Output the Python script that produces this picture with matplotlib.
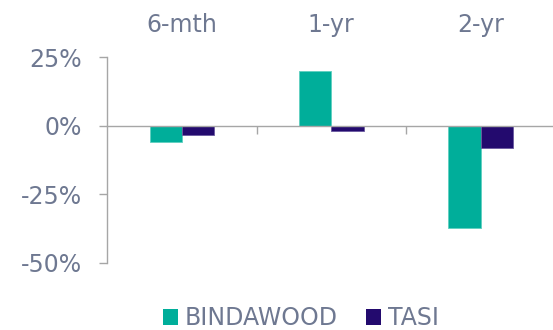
import matplotlib
matplotlib.use("Agg")
import matplotlib.pyplot as plt
import matplotlib.transforms as mtransforms
from matplotlib.patches import Patch
import numpy as np

categories = ["6-mth", "1-yr", "2-yr"]
bindawood = [-6.0, 20.0, -37.4]
tasi = [-3.3, -2.0, -8.2]
series_names = ["BINDAWOOD", "TASI"]
yticks = [-50, -25, 0, 25]
ytick_labels = ["-50%", "-25%", "0%", "25%"]

TEAL = "#00AE9A"
NAVY = "#230A6E"
TEXT = "#6E7891"
AXIS = "#A6A6A6"

plt.rcParams['font.family'] = ['DejaVu Sans']
FS = 17

fig = plt.figure(figsize=(5.53, 3.30), dpi=100)
ax = fig.add_axes([107.3/553, 1-262.9/330, 1-107.3/553, (262.9-57.1)/330])

x = np.arange(len(categories))
w = 0.216
ax.bar(x - w/2, bindawood, w, color=TEAL, edgecolor="#5FCFC0", linewidth=0.6, zorder=2)
ax.bar(x + w/2, tasi, w, color=NAVY, edgecolor="#6A5AA0", linewidth=0.6, zorder=2)

ax.set_xlim(-0.5, 2.485)
ax.set_ylim(-50, 25)

for s in ["top", "right"]:
    ax.spines[s].set_visible(False)
ax.spines["bottom"].set_position(("data", 0))
ax.spines["bottom"].set_color(AXIS)
ax.spines["left"].set_color(AXIS)
ax.spines["bottom"].set_linewidth(1.0)
ax.spines["left"].set_linewidth(1.0)
ax.spines["bottom"].set_zorder(3)

ax.set_xticks([0.5, 1.5])
ax.set_xticklabels([])
ax.tick_params(axis="x", direction="out", length=5.8, width=1.0, color=AXIS)

ax.set_yticks(yticks)
ax.set_yticklabels(ytick_labels)
ax.tick_params(axis="y", direction="out", length=5.8, width=1.0, color=AXIS,
               labelsize=FS, labelcolor=TEXT, pad=12.5)

trans = mtransforms.blended_transform_factory(ax.transData, fig.transFigure)
for i, c in enumerate(categories):
    ax.text(i, 1-31.7/330, c, transform=trans, ha="center", va="baseline",
            fontsize=FS, color=TEXT)

handles = [Patch(facecolor=TEAL, edgecolor="none"), Patch(facecolor=NAVY, edgecolor="none")]
leg = fig.legend(handles, series_names, loc="center", bbox_to_anchor=(0.544, 0.036),
                 ncol=2, frameon=False, fontsize=FS, handlelength=0.64, handleheight=0.64,
                 handletextpad=0.28, columnspacing=1.2, borderpad=0, borderaxespad=0)
for t in leg.get_texts():
    t.set_color(TEXT)

fig.savefig("out.png", dpi=100)
